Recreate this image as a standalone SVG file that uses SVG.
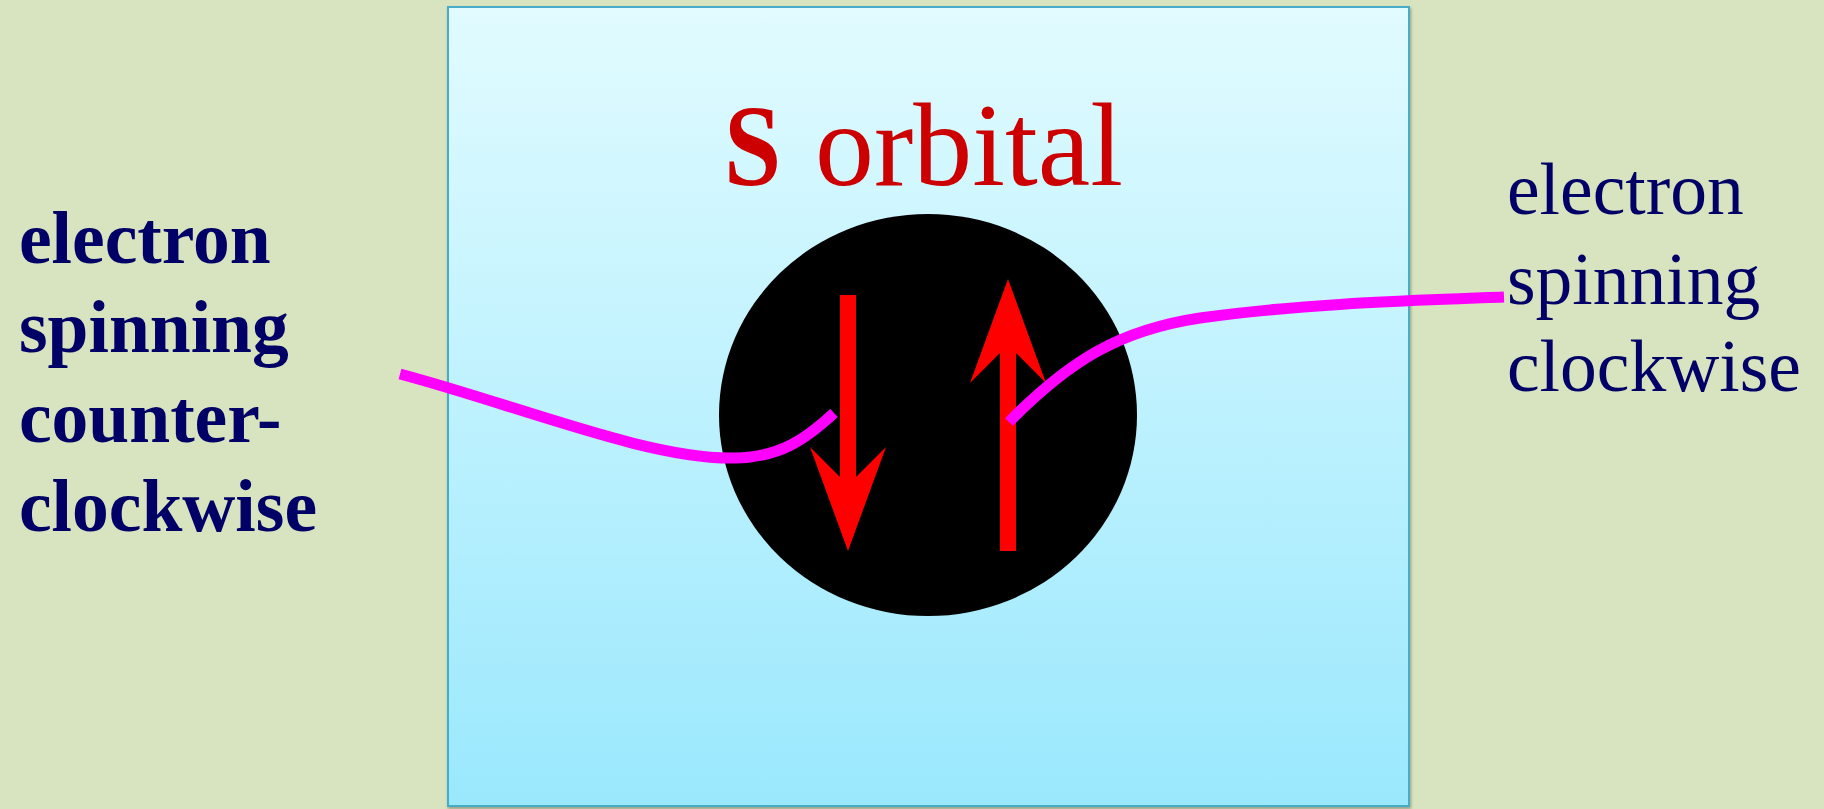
<svg xmlns="http://www.w3.org/2000/svg" width="1824" height="809" viewBox="0 0 1824 809">
<defs>
<linearGradient id="boxGrad" x1="0" y1="0" x2="0" y2="1">
<stop offset="0" stop-color="#e1fbff"/>
<stop offset="1" stop-color="#9ae8fd"/>
</linearGradient>
<filter id="shadow" x="-5%" y="-5%" width="110%" height="110%">
<feDropShadow dx="1" dy="2" stdDeviation="1.5" flood-color="#000" flood-opacity="0.3"/>
</filter>
</defs>
<style>
.lbl{font-family:"Liberation Serif","Times New Roman",serif;fill:#000066;font-size:73.5px}
.bold{font-weight:bold}
.title{font-family:"Liberation Serif","Times New Roman",serif;fill:#cc0000}
.arrow{fill:#ff0000}
.conn{fill:none;stroke:#ff00ff;stroke-width:11}
</style>
<rect width="1824" height="809" fill="#d8e3bf"/>
<g id="box">
<rect x="448" y="7" width="961" height="799" fill="url(#boxGrad)" stroke="#4aacc6" stroke-width="2" filter="url(#shadow)"/>
</g>
<g id="title">
<text class="title" x="0" y="185" font-size="117" font-weight="bold" transform="translate(724 0) scale(0.88 1)">S</text>
<text class="title" x="815" y="185" font-size="118">orbital</text>
</g>
<g id="orbital">
<ellipse cx="928" cy="415" rx="209" ry="201" fill="#000000"/>
</g>
<g id="arrow-down">
<polygon class="arrow" points="840,295 856,295 856,477 886,447 848,551 810,447 840,477"/>
</g>
<g id="arrow-up">
<polygon class="arrow" points="1000,551 1016,551 1016,353 1046,383 1008,279 970,383 1000,353"/>
</g>
<g id="label-left">
<text class="lbl bold" x="19" y="263">electron</text>
<text class="lbl bold" x="19" y="352">spinning</text>
<text class="lbl bold" x="19" y="442">counter-</text>
<text class="lbl bold" x="19" y="531">clockwise</text>
</g>
<g id="label-right">
<text class="lbl" x="1507" y="214">electron</text>
<text class="lbl" x="1507" y="304">spinning</text>
<text class="lbl" x="1507" y="391">clockwise</text>
</g>
<g id="connectors">
<path class="conn" d="M400,374 C520,406 650,460 735,458 C780,457 805,440 834,413"/>
<path class="conn" d="M1009,422 C1070,360 1120,330 1200,318 C1300,304 1400,301 1504,297"/>
</g>
</svg>
